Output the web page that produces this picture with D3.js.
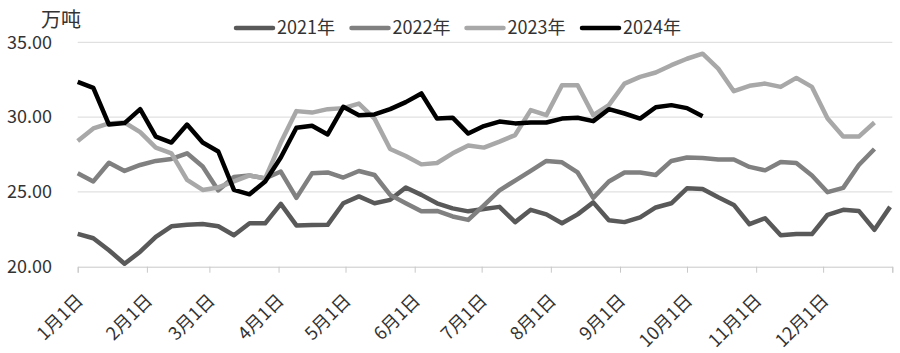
<!DOCTYPE html>
<html>
<head>
<meta charset="utf-8">
<script src="https://cdn.jsdelivr.net/npm/d3@7"></script>
<style>
body { margin: 0; background: #fff; }
text { font-family: "Noto Sans CJK SC", "Noto Sans", sans-serif; fill: #333; }
</style>
</head>
<body>
<div id="chart"></div>
<script>
var seriesNames = ["2021年", "2022年", "2023年", "2024年"];
var seriesColors = ["#595959", "#808080", "#a8a8a8", "#000000"];

var v2021 = [22.2, 21.9, 21.1, 20.2, 21.0, 22.0, 22.7, 22.8, 22.85, 22.7, 22.1, 22.9, 22.9, 24.2,
	22.76, 22.78, 22.8, 24.24, 24.7, 24.24, 24.47, 25.3, 24.8, 24.24, 23.9, 23.7, 23.86, 24.0,
	22.98, 23.8, 23.5, 22.9, 23.5, 24.3, 23.1, 22.98, 23.3, 23.96, 24.24, 25.24, 25.2, 24.64,
	24.13, 22.84, 23.24, 22.1, 22.18, 22.18, 23.47, 23.8, 23.73, 22.47, 24.0];
var v2022 = [26.24, 25.7, 26.95, 26.4, 26.8, 27.07, 27.2, 27.58, 26.7, 25.1, 26.0, 26.1, 25.9, 26.36,
	24.6, 26.24, 26.3, 25.96, 26.4, 26.13, 24.8, 24.24, 23.7, 23.73, 23.36, 23.13, 24.1, 25.1,
	25.76, 26.4, 27.07, 26.98, 26.3, 24.6, 25.7, 26.3, 26.3, 26.13, 27.07, 27.3, 27.27, 27.16,
	27.16, 26.67, 26.44, 27.0, 26.93, 26.1, 24.98, 25.27, 26.8, 27.87];
var v2023 = [28.4, 29.24, 29.58, 29.64, 29.0, 27.96, 27.58, 25.8, 25.13, 25.3, 25.7, 26.1, 25.9, 28.3,
	30.4, 30.3, 30.53, 30.6, 30.9, 29.9, 27.87, 27.4, 26.84, 26.93, 27.58, 28.1, 27.96, 28.36,
	28.8, 30.47, 30.13, 32.13, 32.13, 30.13, 30.8, 32.24, 32.69, 32.98, 33.47, 33.9, 34.24, 33.24,
	31.73, 32.09, 32.24, 32.02, 32.62, 32.02, 29.9, 28.7, 28.7, 29.64];
var v2024 = [32.36, 31.96, 29.5, 29.6, 30.53, 28.7, 28.3, 29.5, 28.3, 27.7, 25.13, 24.84, 25.7, 27.3,
	29.29, 29.42, 28.84, 30.69, 30.13, 30.18, 30.53, 31.0, 31.58, 29.9, 29.96, 28.9, 29.4, 29.7,
	29.58, 29.64, 29.64, 29.9, 29.96, 29.73, 30.53, 30.24, 29.9, 30.66, 30.8, 30.6, 30.05];

var monthLabels = ["1月1日", "2月1日", "3月1日", "4月1日", "5月1日", "6月1日",
	"7月1日", "8月1日", "9月1日", "10月1日", "11月1日", "12月1日"];
var yTicks = [20, 25, 30, 35];

var W = 900, H = 353;
var plotL = 77.7, plotR = 892.3, plotT = 42.3, plotB = 266.7;

var start = new Date(2021, 0, 1), end = new Date(2022, 0, 1);
var x = d3.scaleTime().domain([start, end]).range([plotL, plotR]);
var y = d3.scaleLinear().domain([20, 35]).range([plotB, plotT]);

var svg = d3.select("#chart").append("svg").attr("width", W).attr("height", H);

// gridlines
svg.append("g").selectAll("line").data(yTicks.filter(function(d) { return d > 20; })).enter().append("line").
	attr("x1", plotL).attr("x2", plotR).
	attr("y1", function(d) { return y(d); }).attr("y2", function(d) { return y(d); }).
	attr("stroke", "#d9d9d9").attr("stroke-width", 1);

// y axis
var yAxis = svg.append("g").attr("transform", "translate(52,0)").
	call(d3.axisLeft(y).tickValues(yTicks).tickSize(0).tickPadding(0).tickFormat(d3.format(".2f")));
yAxis.select(".domain").remove();
yAxis.selectAll("text").style("font-size", "18px").attr("fill", "#333");

svg.append("text").attr("x", 41).attr("y", 27).style("font-size", "20px").text("万吨");

// x axis
var months = d3.timeMonth.range(start, end);
var xAxis = svg.append("g").attr("transform", "translate(0," + plotB + ")").
	call(d3.axisBottom(x).tickValues(months.concat([end])).tickSize(6).tickFormat(function(d, i) {
		return monthLabels[i] || "";
	}));
xAxis.select(".domain").attr("stroke", "#c8c8c8");
xAxis.selectAll(".tick line").attr("stroke", "#c8c8c8");
xAxis.selectAll("text").style("font-size", "18px").attr("fill", "#333").
	attr("text-anchor", "end").attr("dy", null).attr("y", null).
	attr("transform", "translate(6,35) rotate(-45)");

// lines
var allSeries = [v2021, v2022, v2023, v2024];
var line = d3.line().
	x(function(d, i) { return x(d3.timeDay.offset(start, 7 * i)); }).
	y(function(d) { return y(d); });

svg.append("g").selectAll("path").data(allSeries).enter().append("path").
	attr("d", function(d) { return line(d); }).
	attr("fill", "none").
	attr("stroke", function(d, i) { return seriesColors[i]; }).
	attr("stroke-width", 4.5).
	attr("stroke-linejoin", "round");

// legend
var legendX = [236, 351.5, 466.5, 582];
var legend = svg.append("g").selectAll("g").data(seriesNames).enter().append("g").
	attr("transform", function(d, i) { return "translate(" + legendX[i] + ",28)"; });
legend.append("line").attr("x1", 0).attr("x2", 37).attr("y1", 0).attr("y2", 0).
	attr("stroke", function(d, i) { return seriesColors[i]; }).
	attr("stroke-width", 4.5).attr("stroke-linecap", "round");
legend.append("text").attr("x", 41).attr("dy", "0.35em").style("font-size", "18px").
	text(function(d) { return d; });
</script>
</body>
</html>
